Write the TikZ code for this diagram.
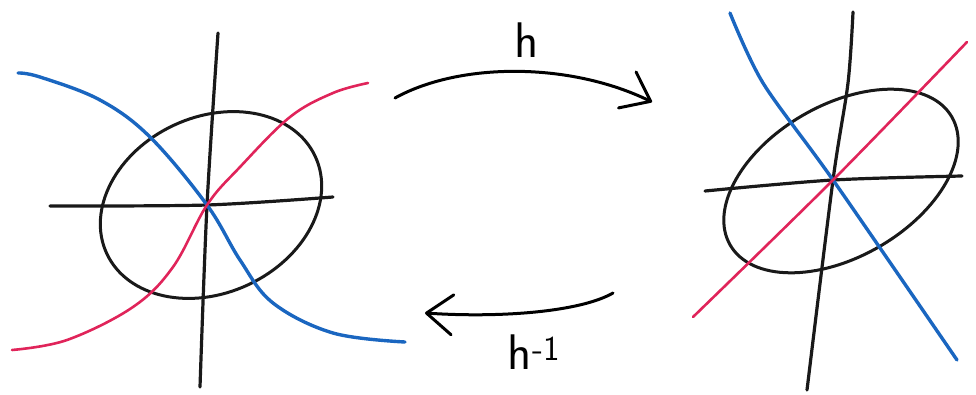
\documentclass[tikz,border=0pt]{standalone}
\usepackage{tikz}
\usetikzlibrary{arrows.meta}
\definecolor{curveblue}{HTML}{1A66C0}
\definecolor{curvered}{HTML}{E0245A}

\begin{document}
\begin{tikzpicture}[
  x=1pt, y=-1pt,
  axis/.style={line width=3.2pt, line cap=round, black!90},
  oval/.style={line width=3pt, black!90},
  blu/.style={line width=3.4pt, line cap=round, curveblue},
  rd/.style={line width=2.6pt, line cap=round, curvered},
  map/.style={line width=3pt, line cap=round,
              -{Straight Barb[length=26pt,width=40pt,round]}},
  lbl/.style={font=\sffamily\fontsize{50}{50}\selectfont, inner sep=0pt},
]
\useasboundingbox (0,0) rectangle (976,394);

% ---- left: bent curves through the origin
\coordinate (o1) at (207,205);
\coordinate (c1) at (211,205);
\draw[axis] plot[smooth] coordinates {(218,33) (o1) (200,387)};
\draw[axis] plot[smooth] coordinates {(50,206) (o1) (333,197)};
\draw[oval, rotate around={25:(c1)}] (c1) ellipse [x radius=115, y radius=88];
\draw[blu] plot[smooth, tension=0.6] coordinates
  {(18,73) (40,77) (100,100) (150,137) (o1) (240,260) (273,303) (333,333) (405,342)};
\draw[rd] plot[smooth, tension=0.6] coordinates
  {(12,350) (67,340) (133,307) (173,267) (o1) (240,167) (290,117) (333,93) (368,83)};

% ---- right: straightened picture
\coordinate (o2) at (833,180);
\coordinate (c2) at (841,181);
\draw[axis] plot[smooth] coordinates {(853,12) (848,83) (o2) (807,390)};
\draw[axis] plot[smooth] coordinates {(705,191) (o2) (962,176)};
\draw[oval, rotate around={30:(c2)}] (c2) ellipse [x radius=128, y radius=76];
\draw[blu] plot[smooth] coordinates {(730,13) (763,83) (o2) (957,360)};
\draw[rd] plot[smooth] coordinates {(693,317) (o2) (967,42)};

% ---- the two maps
\coordinate (hs) at (395,98);
\coordinate (he) at (652,102);
\draw[map] (hs) .. controls (460,62) and (570,62) .. (he);
\node[lbl] (hlab) at (527,40) {h};

\coordinate (gs) at (613,293);
\coordinate (ge) at (425,313);
\draw[map] (gs) .. controls (580,312) and (500,318) .. (ge);
\node[lbl] (ginv) at (534,352) {h\textsuperscript{-1}};
\end{tikzpicture}
\end{document}
